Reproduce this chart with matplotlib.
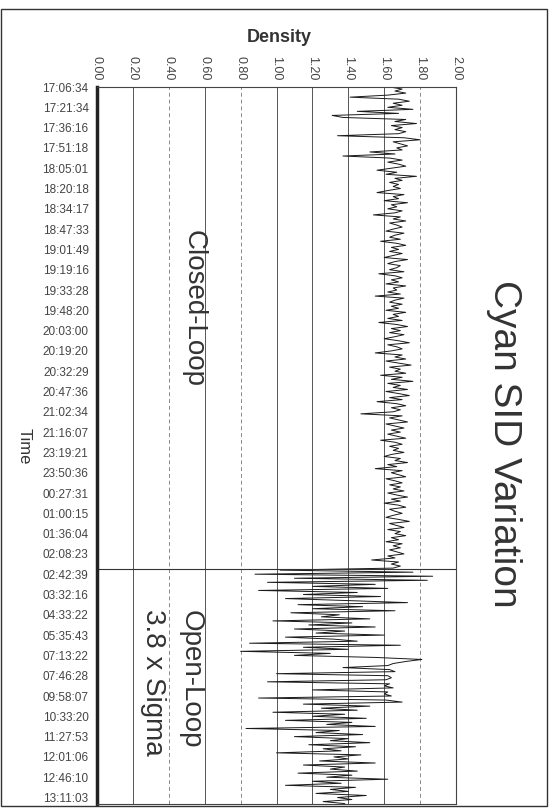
import matplotlib
matplotlib.use("Agg")
from matplotlib import pyplot as plt
from matplotlib.patches import Rectangle

plt.rcParams["font.family"] = ["Liberation Sans", "DejaVu Sans"]

# time stamps shown every 10th reading
time_labels = ["17:06:34", "17:21:34", "17:36:16", "17:51:18", "18:05:01", "18:20:18",
               "18:34:17", "18:47:33", "19:01:49", "19:19:16", "19:33:28", "19:48:20",
               "20:03:00", "20:19:20", "20:32:29", "20:47:36", "21:02:34", "21:16:07",
               "23:19:21", "23:50:36", "00:27:31", "01:00:15", "01:36:04", "02:08:23",
               "02:42:39", "03:32:16", "04:33:22", "05:35:43", "07:13:22", "07:46:28",
               "09:58:07", "10:33:20", "11:27:53", "12:01:06", "12:46:10", "13:11:03"]
label_step = 10

density_ticks = [0.0, 0.2, 0.4, 0.6, 0.8, 1.0, 1.2, 1.4, 1.6, 1.8, 2.0]

closed_loop = [
    1.63, 1.70, 1.66, 1.72, 1.62, 1.41, 1.68, 1.74, 1.65, 1.70,
    1.62, 1.76, 1.45, 1.68, 1.31, 1.37, 1.72, 1.66, 1.78, 1.64,
    1.70, 1.66, 1.72, 1.68, 1.34, 1.71, 1.80, 1.65, 1.69, 1.73,
    1.67, 1.70, 1.52, 1.66, 1.37, 1.63, 1.70, 1.62, 1.68, 1.72,
    1.64, 1.56, 1.67, 1.61, 1.78, 1.66, 1.70, 1.63, 1.68, 1.65,
    1.69, 1.62, 1.56, 1.71, 1.65, 1.68, 1.60, 1.73, 1.64, 1.67,
    1.62, 1.70, 1.66, 1.54, 1.69, 1.65, 1.72, 1.63, 1.67, 1.70,
    1.65, 1.61, 1.71, 1.66, 1.63, 1.69, 1.58, 1.67, 1.72, 1.64,
    1.68, 1.63, 1.70, 1.65, 1.60, 1.73, 1.66, 1.62, 1.69, 1.67,
    1.63, 1.71, 1.57, 1.66, 1.70, 1.64, 1.68, 1.61, 1.72, 1.65,
    1.67, 1.62, 1.69, 1.55, 1.71, 1.66, 1.63, 1.70, 1.64, 1.68,
    1.61, 1.72, 1.65, 1.68, 1.62, 1.70, 1.57, 1.67, 1.73, 1.64,
    1.69, 1.63, 1.71, 1.66, 1.60, 1.68, 1.74, 1.62, 1.67, 1.70,
    1.64, 1.55, 1.70, 1.66, 1.72, 1.61, 1.68, 1.75, 1.63, 1.69,
    1.66, 1.72, 1.58, 1.70, 1.64, 1.76, 1.62, 1.69, 1.65, 1.73,
    1.61, 1.68, 1.74, 1.63, 1.70, 1.56, 1.67, 1.72, 1.64, 1.69,
    1.65, 1.47, 1.70, 1.63, 1.68, 1.73, 1.61, 1.66, 1.71, 1.64,
    1.69, 1.62, 1.67, 1.72, 1.58, 1.66, 1.70, 1.63, 1.68, 1.65,
    1.71, 1.64, 1.60, 1.69, 1.66, 1.73, 1.62, 1.67, 1.55, 1.70,
    1.64, 1.68, 1.72, 1.61, 1.66, 1.70, 1.63, 1.69, 1.65, 1.71,
    1.62, 1.67, 1.73, 1.64, 1.69, 1.60, 1.68, 1.72, 1.63, 1.66,
    1.70, 1.65, 1.61, 1.68, 1.74, 1.63, 1.67, 1.71, 1.62, 1.69,
    1.66, 1.72, 1.64, 1.68, 1.61, 1.70, 1.65, 1.69, 1.63, 1.67,
    1.71, 1.62, 1.66, 1.53, 1.68, 1.64, 1.69, 1.65,
]

open_loop = [
    1.02, 1.76, 0.88, 1.87, 1.10, 1.84, 0.95, 1.55, 1.20, 1.62,
    0.90, 1.45, 1.15, 1.58, 1.05, 1.40,
    1.73, 1.12, 1.48, 1.20, 1.66, 1.08, 1.35, 1.25, 1.52, 0.98,
    1.42, 1.18, 1.55, 1.10, 1.38, 1.22, 1.60, 1.05, 1.32, 1.45,
    0.85, 1.69, 1.15, 1.40, 0.80, 1.30, 1.10, 1.55,
    1.81, 1.72, 1.65,
    1.62, 1.37, 1.63, 1.66, 1.00, 1.62, 1.64, 1.61, 0.95, 1.63,
    1.60, 1.65, 1.20, 1.62, 1.60, 1.64, 0.90, 1.61,
    1.70, 1.15, 1.52, 1.25, 1.45, 0.98, 1.38, 1.20, 1.50, 1.05,
    1.42, 1.28, 1.55, 0.83, 1.35, 1.22, 1.48, 1.10, 1.40, 1.30,
    1.52, 1.18, 1.44, 1.26, 1.36, 1.00, 1.47, 1.32, 1.40, 1.24,
    1.55, 1.15, 1.38, 1.30, 1.45, 1.12, 1.42, 1.28, 1.62, 1.20,
    1.36, 1.05, 1.44, 1.30, 1.40, 1.22, 1.50, 1.34, 1.42, 1.26,
    1.38,
]

W, H = 552, 808
fig = plt.figure(figsize=(W / 100, H / 100), dpi=100)
fig.patch.set_facecolor("white")

def fx(px):
    return px / W

def fy(py):
    return 1 - py / H

ax = fig.add_axes([fx(97), fy(804), fx(456) - fx(97), fy(87) - fy(804)])

density = closed_loop + open_loop
reading = list(range(len(density)))
ax.plot(density, reading, color="#1a1a1a", lw=0.7)

# density gridlines, some of them come out broken in the print
for v in density_ticks[1:-1]:
    if v in (0.4, 0.8, 1.8):
        ax.axvline(v, color="#8a8a8a", lw=0.7, ls=(0, (4, 3)), zorder=0)
    else:
        ax.axvline(v, color="#555555", lw=0.7, zorder=0)

# change from closed to open loop
ax.axhline(len(closed_loop) - 0.5, color="#333333", lw=0.8)

ax.set_xlim(0, 2.0)
ax.set_ylim(len(density) - 0.8, 0)

ax.xaxis.tick_top()
ax.set_xticks(density_ticks)
ax.set_xticklabels(["%.2f" % v for v in density_ticks], rotation=-90,
                   fontsize=9, color="#444444")
ax.set_yticks(list(range(0, len(time_labels) * label_step, label_step)))
ax.set_yticklabels(time_labels, fontsize=8.5, color="#444444")
ax.tick_params(axis="both", length=0)
ax.tick_params(axis="x", pad=5)
ax.tick_params(axis="y", pad=6)

for side in ("top", "right", "bottom"):
    ax.spines[side].set_color("#444444")
    ax.spines[side].set_linewidth(0.8)
ax.spines["left"].set_color("#222222")
ax.spines["left"].set_linewidth(2.5)

fig.text(fx(279), fy(38), "Density", fontsize=13, fontweight="bold",
         color="#333333", ha="center", va="center")
fig.text(fx(24), fy(446), "Time", fontsize=12, color="#333333",
         rotation=-90, ha="center", va="center")
fig.text(fx(504), fy(444), "Cyan SID Variation", fontsize=28, color="#333333",
         rotation=-90, ha="center", va="center")
fig.text(fx(194), fy(309), "Closed-Loop", fontsize=20, color="#333333",
         rotation=-90, ha="center", va="center")
fig.text(fx(191), fy(679), "Open-Loop", fontsize=20, color="#333333",
         rotation=-90, ha="center", va="center")
fig.text(fx(153), fy(682), "3.8 x Sigma", fontsize=20, color="#333333",
         rotation=-90, ha="center", va="center")

# frame round the whole chart
fig.patches.append(Rectangle((fx(1), fy(806)), fx(547) - fx(1), fy(9) - fy(806),
                             transform=fig.transFigure, fill=False,
                             edgecolor="#333333", lw=1.0))

fig.savefig("out.png", dpi=100)
